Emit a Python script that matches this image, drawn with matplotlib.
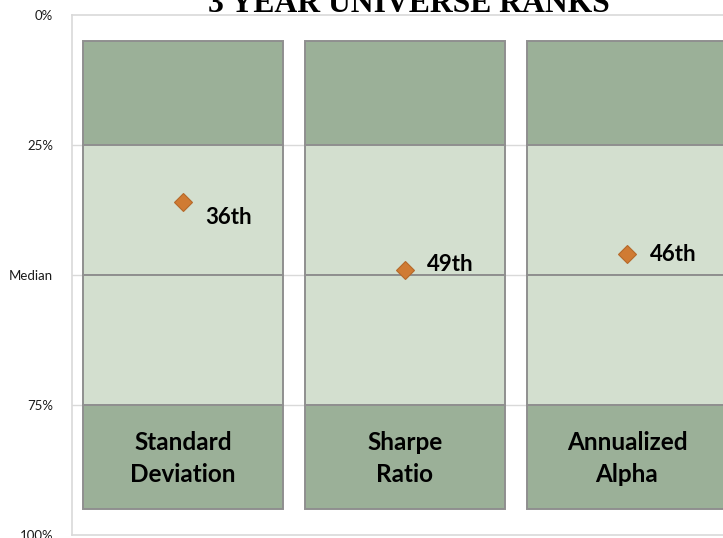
from matplotlib import pyplot as plt

# data
categories = ['Standard\nDeviation', 'Sharpe\nRatio', 'Annualized\nAlpha']
ranks = [36, 49, 46]
rank_labels = ['36th', '49th', '46th']
band_edges = [5, 25, 50, 75, 95]
band_colors = ['#9bb098', '#d3dfcf', '#d3dfcf', '#9bb098']
ytick_pos = [0, 25, 50, 75, 100]
ytick_labels = ['0%', '25%', 'Median', '75%', '100%']

# label offsets (points) as placed in the original
label_offsets = [(16, -11), (16, 4), (16.5, 0)]

fig = plt.figure(figsize=(7.23, 5.38), dpi=100)
ax = fig.add_axes([72 / 723, 3 / 538, 666 / 723, 520 / 538])

x = list(range(len(categories)))

# grid lines behind bars
for y in ytick_pos[1:-1]:
    ax.axhline(y, color='#d9d9d9', lw=1, zorder=0)

# stacked bands
for i in range(len(band_colors)):
    bottom = band_edges[i]
    height = band_edges[i + 1] - band_edges[i]
    ax.bar(x, [height] * len(x), bottom=bottom, width=0.9,
           color=band_colors[i], edgecolor='#8f8f8f', linewidth=1.4, zorder=2)

# category labels in the bottom band
for xi, cat in zip(x, categories):
    ax.text(xi, 85.3, cat, ha='center', va='center', fontsize=17.5,
            fontweight='bold', family='Lato', linespacing=1.45, zorder=4)

# rank markers
ax.plot(x, ranks, linestyle='none', marker='D', markersize=9.5,
        color='#d07b33', markeredgecolor='#b5692a', markeredgewidth=0.8, zorder=5)
for xi, r, lab, off in zip(x, ranks, rank_labels, label_offsets):
    ax.annotate(lab, (xi, r), xytext=off, textcoords='offset points',
                ha='left', va='center', fontsize=16, fontweight='bold',
                family='Lato', zorder=6)

ax.set_xlim(-0.5, 2.5)
ax.set_ylim(100, 0)
ax.set_xticks([])
ax.set_yticks(ytick_pos)
ax.set_yticklabels(ytick_labels, family='Lato', fontsize=9.5, color='#1a1a1a')
ax.tick_params(axis='y', length=0, pad=13.5)

for side in ['left', 'bottom', 'top']:
    ax.spines[side].set_color('#d9d9d9')
    ax.spines[side].set_linewidth(1.2)
ax.spines['right'].set_visible(False)

fig.text(409 / 723, 1 - 12 / 538, '3 YEAR UNIVERSE RANKS', ha='center',
         va='baseline', fontsize=22.8, fontweight='bold', family='Liberation Serif')

plt.savefig('out.png', dpi=100)
